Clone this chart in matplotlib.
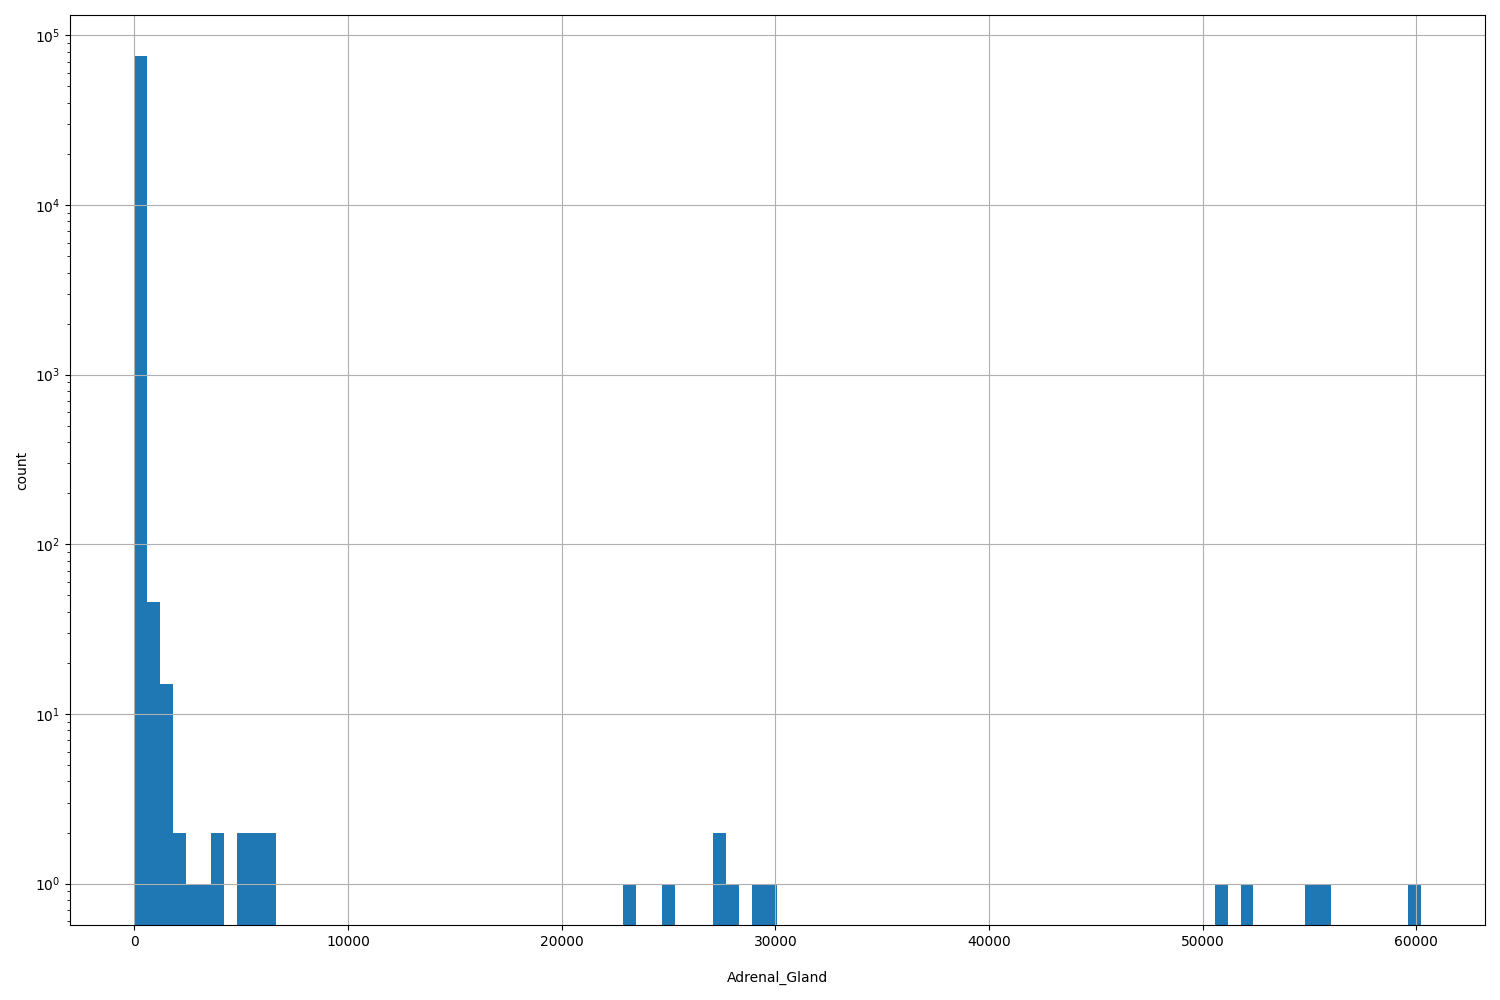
import numpy as np
import matplotlib
matplotlib.use("Agg")
import matplotlib.pyplot as plt

# histogram of Adrenal_Gland: 100 equal bins from 0 to ~60200
x_min = 0.0
x_max = 60200.0
n_bins = 100

# bins that hold at least one sample, and their counts
bin_index = [0, 1, 2, 3, 4, 5, 6, 8, 9, 10,
             38, 41, 45, 46, 48, 49,
             84, 86, 91, 92, 99]
bin_count = [75200, 46, 15, 2, 1, 1, 2, 2, 2, 2,
             1, 1, 2, 1, 1, 1,
             1, 1, 1, 1, 1]

edges = np.linspace(x_min, x_max, n_bins + 1)
counts = np.zeros(n_bins)
counts[bin_index] = bin_count

fig, ax = plt.subplots(figsize=(15, 10), dpi=100)
ax.hist(edges[:-1], bins=edges, weights=counts, log=True, color="#1f77b4")
ax.grid(True)
ax.set_xlabel("Adrenal_Gland", labelpad=16)
ax.set_ylabel("count")

fig.subplots_adjust(left=0.0466, right=0.99, bottom=0.075, top=0.985)
fig.savefig("out.png", dpi=100)
